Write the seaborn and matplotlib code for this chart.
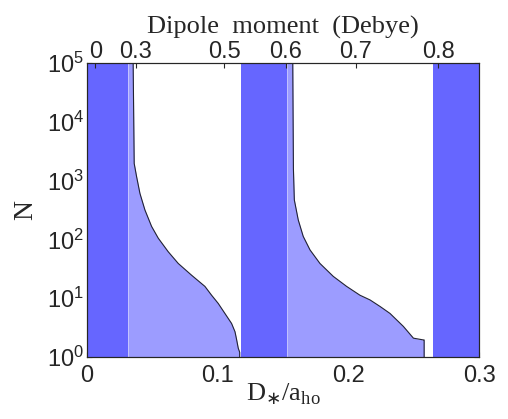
import numpy as np
import pandas as pd
import matplotlib
matplotlib.use("Agg")
import matplotlib.pyplot as plt
import seaborn as sns

# dark bands (D*/a_ho ranges)
band_lo = [0.0, 0.118, 0.265]
band_hi = [0.0314, 0.153, 0.3]

# first light region: x and log10(N)
x1 = [0.0314, 0.0354, 0.0362, 0.0380, 0.0406, 0.0444, 0.0495, 0.0546, 0.0622, 0.0699,
      0.0801, 0.0903, 0.0954, 0.1005, 0.1056, 0.1107, 0.1133, 0.1146, 0.1158, 0.1169, 0.1169]
lg1 = [5.0, 5.0, 3.29, 3.07, 2.78, 2.50, 2.22, 2.02, 1.79, 1.59,
       1.39, 1.20, 1.05, 0.91, 0.74, 0.57, 0.43, 0.29, 0.15, 0.08, 0.0]

# second light region
x2 = [0.1530, 0.1575, 0.1580, 0.1587, 0.1617, 0.1655, 0.1707, 0.1783, 0.1885, 0.1987,
      0.2089, 0.2166, 0.2242, 0.2319, 0.2370, 0.2421, 0.2498, 0.2574, 0.2580, 0.2580]
lg2 = [5.0, 5.0, 3.20, 2.67, 2.33, 2.05, 1.82, 1.59, 1.37, 1.20,
       1.05, 0.97, 0.86, 0.74, 0.63, 0.52, 0.32, 0.29, 0.29, 0.0]

# top axis (dipole moment, Debye)
top_pos = [0.0065, 0.0375, 0.1051, 0.1520, 0.2058, 0.2688]
top_lab = ["0", "0.3", "0.5", "0.6", "0.7", "0.8"]

dark = "#6666ff"
light = "#9c9cff"

sns.set_style("ticks")
plt.rcParams["font.family"] = ["Liberation Sans", "DejaVu Sans"]

fig = plt.figure(figsize=(5.08, 4.19), dpi=100)
ax = fig.add_axes([0.171, 0.148, 0.772, 0.702])

for lo, hi in zip(band_lo, band_hi):
    ax.axvspan(lo, hi, color=dark, lw=0, zorder=1)

for xs, lg in [(x1, lg1), (x2, lg2)]:
    df = pd.DataFrame({"x": xs, "N": 10 ** np.array(lg)})
    ax.fill_between(df["x"], df["N"], 1, color=light, lw=0, zorder=2)
    sns.lineplot(data=df.iloc[1:], x="x", y="N", ax=ax, color="#222233",
                 lw=0.8, sort=False, estimator=None, zorder=3)

ax.set_yscale("log")
ax.set_xlim(0, 0.3)
ax.set_ylim(1, 1e5)
ax.set_xticks([0, 0.1, 0.2, 0.3])
ax.set_xticklabels(["0", "0.1", "0.2", "0.3"])
ax.tick_params(axis="both", which="both", direction="in", labelsize=17,
               top=False, right=True)
ax.tick_params(axis="x", pad=6)
ax.tick_params(axis="y", pad=2)
ax.set_xlabel(r"D$_{\ast}$/a$_{\mathregular{ho}}$",
              fontfamily="Liberation Serif", fontsize=19, labelpad=-4)
ax.set_ylabel("N", fontfamily="Liberation Serif", fontsize=20, labelpad=6)

top = ax.twiny()
top.set_xlim(ax.get_xlim())
top.set_xticks(top_pos)
top.set_xticklabels(top_lab)
top.tick_params(direction="in", labelsize=17, pad=0)
top.set_xlabel("Dipole  moment  (Debye)", fontfamily="Liberation Serif",
               fontsize=19, labelpad=5)
for a in (ax, top):
    for s in a.spines.values():
        s.set_linewidth(0.8)
        s.set_zorder(5)

fig.savefig("out.png", dpi=100)
